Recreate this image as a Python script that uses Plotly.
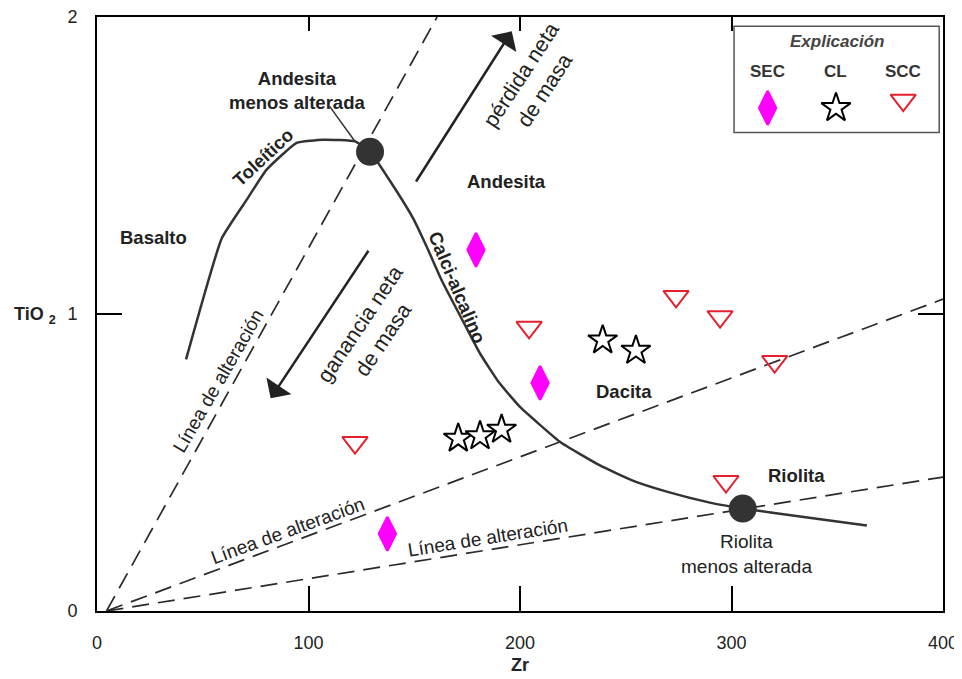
import plotly.graph_objects as go

# ---------------- data ----------------
sec_zr = [179.2, 209.5, 137.3]
sec_tio2 = [1.216, 0.768, 0.260]

cl_zr = [170.8, 181.1, 191.3, 239.1, 254.8]
cl_tio2 = [0.581, 0.589, 0.611, 0.912, 0.877]

scc_zr = [204.3, 273.8, 294.6, 320.4, 297.4, 122.0]
scc_tio2 = [0.955, 1.059, 0.991, 0.840, 0.436, 0.567]

trend_zr = [42.1, 59.0, 70.8, 80.2, 94.4, 107.0, 122.0, 129.1, 142.0, 149.4, 156.0,
            163.0, 172.0, 181.1, 190.0, 200.0, 219.0, 237.8, 253.0, 269.4, 289.8,
            305.3, 335.0, 364.0]
trend_tio2 = [0.847, 1.255, 1.385, 1.486, 1.576, 1.587, 1.581, 1.546, 1.41, 1.323, 1.225,
              1.113, 0.99, 0.867, 0.77, 0.687, 0.569, 0.49, 0.44, 0.402, 0.365,
              0.345, 0.316, 0.288]

least_zr = [129.1, 305.3]
least_tio2 = [1.546, 0.345]

alt_origin_zr = 4.5
alt_origin_tio2 = 0.0
alt_end_zr = [160.8, 400.0, 400.0]
alt_end_tio2 = [2.0, 1.05, 0.451]

x_ticks = [0, 100, 200, 300, 400]
y_ticks = [0, 1, 2]

legend_names = ["SEC", "CL", "SCC"]
legend_zr = [317.1, 349.4, 381.2]
legend_tio2 = [1.694, 1.694, 1.72]

FONT = "Liberation Sans, Arial, sans-serif"
MAGENTA = "#FF00FF"
RED = "#E5202E"

fig = go.Figure()

# alteration lines (dashed)
for xe, ye in zip(alt_end_zr, alt_end_tio2):
    fig.add_trace(go.Scatter(x=[alt_origin_zr, xe], y=[alt_origin_tio2, ye], mode="lines",
                             line=dict(color="#2a2a2a", width=1.7, dash="17px,9px"),
                             hoverinfo="skip", showlegend=False))

# trend curve
fig.add_trace(go.Scatter(x=trend_zr, y=trend_tio2, mode="lines",
                         line=dict(color="#333333", width=2.5, shape="spline", smoothing=0.4),
                         hoverinfo="skip", showlegend=False))

# least altered points
fig.add_trace(go.Scatter(x=least_zr, y=least_tio2, mode="markers",
                         marker=dict(size=28, color="#333333"), showlegend=False))

# data series
fig.add_trace(go.Scatter(x=sec_zr, y=sec_tio2, mode="markers", name="SEC",
                         marker=dict(symbol="diamond-tall", size=24, color=MAGENTA,
                                     line=dict(color=MAGENTA, width=2.5)), showlegend=False))
fig.add_trace(go.Scatter(x=cl_zr, y=cl_tio2, mode="markers", name="CL",
                         marker=dict(symbol="star", size=22, color="white",
                                     line=dict(color="black", width=2)), showlegend=False))
fig.add_trace(go.Scatter(x=scc_zr, y=scc_tio2, mode="markers", name="SCC",
                         marker=dict(symbol="triangle-down-open", size=22, color=RED,
                                     line=dict(color=RED, width=2)), showlegend=False))

# legend markers
fig.add_trace(go.Scatter(x=[legend_zr[0]], y=[legend_tio2[0]], mode="markers",
                         marker=dict(symbol="diamond-tall", size=24, color=MAGENTA,
                                     line=dict(color=MAGENTA, width=2.5)), showlegend=False))
fig.add_trace(go.Scatter(x=[legend_zr[1]], y=[legend_tio2[1]], mode="markers",
                         marker=dict(symbol="star", size=22, color="white",
                                     line=dict(color="black", width=2)), showlegend=False))
fig.add_trace(go.Scatter(x=[legend_zr[2]], y=[legend_tio2[2]], mode="markers",
                         marker=dict(symbol="triangle-down-open", size=22, color=RED,
                                     line=dict(color=RED, width=2)), showlegend=False))

# invisible trace for top axis ticks
fig.add_trace(go.Scatter(x=[0], y=[0], xaxis="x2", mode="markers",
                         marker=dict(opacity=0), hoverinfo="skip", showlegend=False))

# legend box
fig.add_shape(type="rect", x0=301.2, x1=398.2, y0=1.611, y1=1.969, xref="x", yref="y",
              line=dict(color="#555555", width=1.5), fillcolor="white", layer="below")
# pointer line
fig.add_shape(type="line", x0=110, y0=1.699, x1=122, y1=1.581, xref="x", yref="y",
              line=dict(color="#333333", width=1.5))

# arrows
for (tx, ty, sx, sy) in [(196.1, 1.952, 150.4, 1.441), (82.1, 0.716, 128.8, 1.218)]:
    fig.add_annotation(x=tx, y=ty, ax=sx, ay=sy, xref="x", yref="y", axref="x", ayref="y",
                       text="", showarrow=True, arrowhead=1, arrowsize=2.0, arrowwidth=2.5,
                       arrowcolor="#222222")

labels = [
    ("<b>Basalto</b>", 26.5, 1.259, 0, 18.5),
    ("<b>Toleítico</b>", 78.5, 1.526, -43, 18.5),
    ("<b>Andesita</b><br><b>menos alterada</b>", 94.5, 1.752, 0, 18.5),
    ("pérdida neta<br>de masa", 206.0, 1.779, -57, 21.5),
    ("<b>Andesita</b>", 193.4, 1.446, 0, 18.5),
    ("<b>Calci-alcalino</b>", 170.2, 1.088, 67, 18.5),
    ("ganancia neta<br>de masa", 129.9, 0.94, -56, 21.5),
    ("Línea de alteración", 57.4, 0.777, -60, 19),
    ("<b>Dacita</b>", 249.3, 0.740, 0, 18.5),
    ("<b>Riolita</b>", 330.5, 0.457, 0, 18.5),
    ("Riolita<br>menos alterada", 307.2, 0.193, 0, 19),
    ("Línea de alteración", 90.4, 0.271, -20, 19),
    ("Línea de alteración", 185.0, 0.249, -9, 19),
]
for txt, x, y, ang, sz in labels:
    fig.add_annotation(x=x, y=y, xref="x", yref="y", text=txt, showarrow=False,
                       xanchor="center", yanchor="middle",
                       textangle=ang, font=dict(family=FONT, size=sz, color="#222222"))

# legend texts
fig.add_annotation(x=349.7, y=1.918, xref="x", yref="y", text="<b><i>Explicación</i></b>",
                   showarrow=False, xanchor="center",
                   font=dict(family=FONT, size=17, color="#444444"))
for name, x in zip(legend_names, legend_zr):
    fig.add_annotation(x=x, y=1.817, xref="x", yref="y", text=f"<b>{name}</b>",
                       showarrow=False, xanchor="center",
                       font=dict(family=FONT, size=17, color="#333333"))

# axis titles
fig.add_annotation(x=0.5, y=-0.091, xref="paper", yref="paper", text="<b>Zr</b>",
                   showarrow=False, xanchor="center", yanchor="middle",
                   font=dict(family=FONT, size=18, color="#222222"))
fig.add_annotation(x=-0.0733, y=0.497, xref="paper", yref="paper", text="<b>TiO <sub>2</sub></b>",
                   showarrow=False, xanchor="center", yanchor="middle",
                   font=dict(family=FONT, size=18, color="#222222"))

# page has an 8px body margin: margins are reduced so the plot area lands where the reference has it
fig.update_layout(
    width=954, height=671,
    margin=dict(l=89, r=19, t=9, b=68, autoexpand=False),
    plot_bgcolor="white", paper_bgcolor="white",
    xaxis=dict(range=[0, 400], tickvals=x_ticks, ticks="inside", ticklen=25, tickwidth=2,
               tickcolor="black", showline=True, linewidth=2, linecolor="black", mirror=True,
               showgrid=False, zeroline=False, ticklabelstandoff=14, automargin=False,
               ticklabeloverflow="allow",
               tickfont=dict(family=FONT, size=18, color="#222222")),
    xaxis2=dict(range=[0, 400], overlaying="x", side="top", tickvals=x_ticks[1:4], ticks="inside",
                ticklen=14, tickwidth=2, tickcolor="black", showticklabels=False, showline=False,
                showgrid=False, zeroline=False, automargin=False),
    yaxis=dict(range=[0, 2], tickvals=y_ticks, ticks="inside", ticklen=25, tickwidth=2,
               tickcolor="black", showline=True, linewidth=2, linecolor="black", mirror="ticks",
               showgrid=False, zeroline=False, ticklabelstandoff=14, automargin=False,
               ticklabeloverflow="allow",
               tickfont=dict(family=FONT, size=18, color="#222222")),
)

fig.write_html("out.html")
